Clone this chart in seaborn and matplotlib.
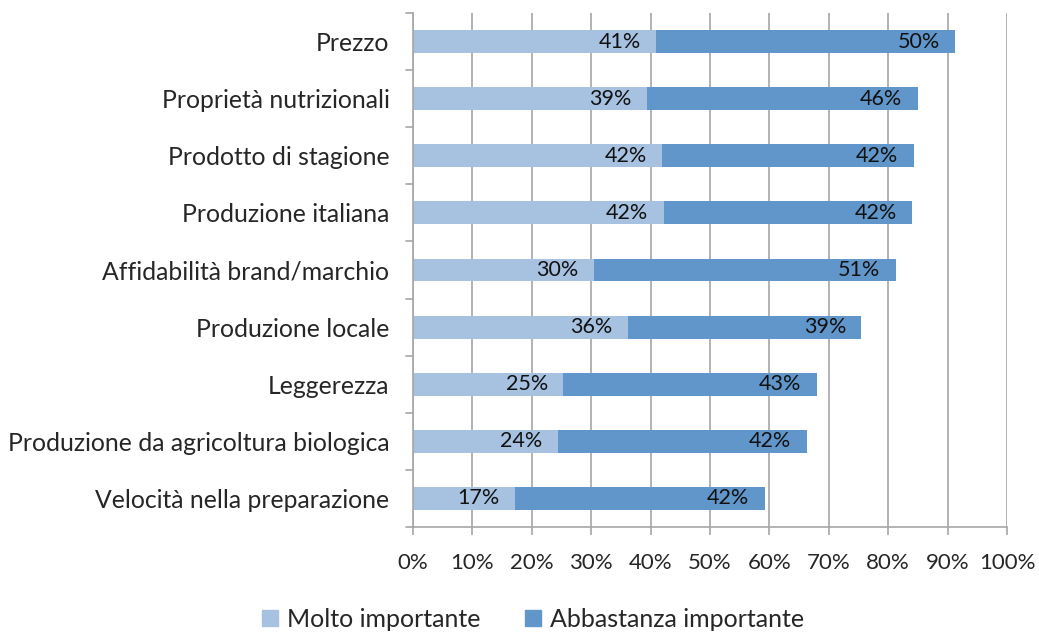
import matplotlib
matplotlib.use("Agg")
import matplotlib.pyplot as plt
import seaborn as sns
import numpy as np
import pandas as pd
from matplotlib.patches import Patch

categories = ["Prezzo", "Proprietà nutrizionali", "Prodotto di stagione", "Produzione italiana",
              "Affidabilità brand/marchio", "Produzione locale", "Leggerezza",
              "Produzione da agricoltura biologica", "Velocità nella preparazione"]
molto = [40.9, 39.4, 42.0, 42.2, 30.4, 36.2, 25.3, 24.4, 17.1]
abbastanza = [50.4, 45.6, 42.3, 41.8, 50.9, 39.3, 42.7, 41.9, 42.1]
series_names = ["Molto importante", "Abbastanza importante"]
xticks = [0, 10, 20, 30, 40, 50, 60, 70, 80, 90, 100]

light = "#A7C1E1"
dark = "#6096CA"
grid_c = "#A6A6A6"

sns.set_theme(style="white")
plt.rcParams["font.family"] = ["Lato", "DejaVu Sans"]

df = pd.DataFrame({"cat": categories, "molto": molto, "abb": abbastanza})
df["tot"] = df["molto"] + df["abb"]

fig = plt.figure(figsize=(10.39, 6.36), dpi=100)
ax = fig.add_axes([413/1039, 1-527/636, (1007-413)/1039, (527-13)/636])

sns.barplot(data=df, y="cat", x="tot", color=dark, orient="h", width=0.4, ax=ax,
            saturation=1, linewidth=0)
sns.barplot(data=df, y="cat", x="molto", color=light, orient="h", width=0.4, ax=ax,
            saturation=1, linewidth=0)

for i, r in df.iterrows():
    ax.text(r["molto"] - 2.6, i, f"{round(r['molto'])}%", ha="right", va="center",
            fontsize=15.5, color="#111111")
    ax.text(r["tot"] - 2.6, i, f"{round(r['abb'])}%", ha="right", va="center",
            fontsize=15.5, color="#111111")

ax.set_xlim(0, 100)
ax.set_ylim(len(categories) - 0.5, -0.5)
ax.set_xticks(xticks)
ax.set_xticklabels([f"{t}%" for t in xticks], fontsize=16)
ax.set_yticks(range(len(categories)))
ax.set_yticklabels(categories, fontsize=17.8)
ax.set_xlabel("")
ax.set_ylabel("")
ax.set_axisbelow(True)
ax.grid(axis="x", color=grid_c, linewidth=1.2)
ax.grid(axis="y", visible=False)
for s in ["top", "right"]:
    ax.spines[s].set_visible(False)
for s in ["left", "bottom"]:
    ax.spines[s].set_color(grid_c)
    ax.spines[s].set_linewidth(1.2)

ax.tick_params(axis="x", bottom=True, length=6, color=grid_c, width=1.2, pad=13)
ax.tick_params(axis="y", left=False, pad=11)
for b in np.arange(-0.5, len(categories) + 0.5, 1.0):
    ax.plot([-0.012, 0], [b, b], transform=ax.get_yaxis_transform(), color=grid_c,
            lw=1.2, clip_on=False)

handles = [Patch(color=light, label=series_names[0]), Patch(color=dark, label=series_names[1])]
fig.legend(handles=handles, loc="lower center", bbox_to_anchor=(0.513, -0.027), ncol=2,
           frameon=False, fontsize=18, handlelength=0.65, handleheight=0.65,
           handletextpad=0.35, columnspacing=1.8)

fig.savefig("out.png", dpi=100)
